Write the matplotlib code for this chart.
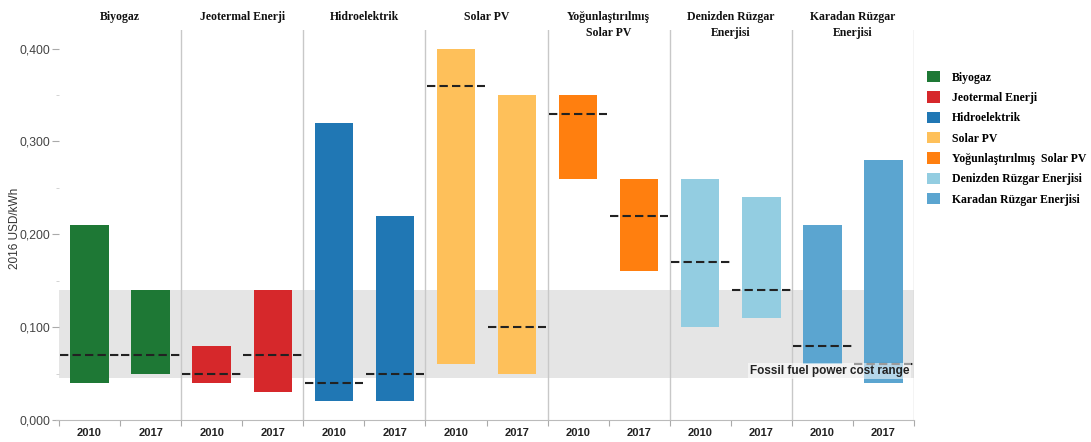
import matplotlib
matplotlib.use("Agg")
import matplotlib.pyplot as plt
import matplotlib.transforms as mtransforms
from matplotlib.patches import Patch
from matplotlib.ticker import FixedLocator

# ---------------- data ----------------
categories = ['Biyogaz', 'Jeotermal Enerji', 'Hidroelektrik', 'Solar PV',
              'Yoğunlaştırılmış\nSolar PV', 'Denizden Rüzgar\nEnerjisi',
              'Karadan Rüzgar\nEnerjisi']
legend_labels = ['Biyogaz', 'Jeotermal Enerji', 'Hidroelektrik', 'Solar PV',
                 'Yoğunlaştırılmış  Solar PV', 'Denizden Rüzgar Enerjisi',
                 'Karadan Rüzgar Enerjisi']
years = ['2010', '2017']
low_2010 = [0.04, 0.04, 0.02, 0.06, 0.26, 0.10, 0.06]
high_2010 = [0.21, 0.08, 0.32, 0.40, 0.35, 0.26, 0.21]
avg_2010 = [0.07, 0.05, 0.04, 0.36, 0.33, 0.17, 0.08]
low_2017 = [0.05, 0.03, 0.02, 0.05, 0.16, 0.11, 0.04]
high_2017 = [0.14, 0.14, 0.22, 0.35, 0.26, 0.24, 0.28]
avg_2017 = [0.07, 0.07, 0.05, 0.10, 0.22, 0.14, 0.06]
fossil_range = [0.045, 0.14]
y_ticks = [0.0, 0.1, 0.2, 0.3, 0.4]
y_ticklabels = ['0,000', '0,100', '0,200', '0,300', '0,400']
y_minor = [0.05, 0.15, 0.25, 0.35]

colors = ['#1e7835', '#d6282b', '#2077b4', '#fec05a', '#ff7f0f', '#93cde1', '#5ba5d0']

# ---------------- figure ----------------
W, H = 1091, 442
fig = plt.figure(figsize=(W / 100, H / 100), dpi=100)
left, right, bottom, top = 59, 914, 420, 30
ax = fig.add_axes([left / W, 1 - bottom / H, (right - left) / W, (bottom - top) / H])

n = len(categories)
ax.set_xlim(0, 2 * n)
ax.set_ylim(0, 0.42)

# fossil band
ax.axhspan(fossil_range[0], fossil_range[1], color='#e5e5e5', zorder=0, lw=0)

bw = 0.63
for i in range(n):
    for j, (lo, hi, av) in enumerate([(low_2010, high_2010, avg_2010),
                                      (low_2017, high_2017, avg_2017)]):
        xc = 2 * i + j + 0.5
        ax.bar(xc, hi[i] - lo[i], bottom=lo[i], width=bw, color=colors[i],
               zorder=2, lw=0)
        ax.plot([2 * i + j + 0.02, 2 * i + j + 0.98], [av[i], av[i]],
                color='#222222', lw=1.5, dashes=(4, 2), zorder=3)

# separators
for k in range(1, n + 1):
    ax.axvline(2 * k, color='#c8c8c8', lw=1.0, zorder=1)

# fossil text
ax.text(2 * n - 0.08, 0.053, 'Fossil fuel power cost range', ha='right', va='center',
        fontsize=8.5, fontweight='bold', family='Liberation Sans', color='#222222',
        zorder=4, bbox=dict(boxstyle='square,pad=0.15', fc='white', ec='none', alpha=0.55))

# axes styling
for s in ['top', 'right', 'left']:
    ax.spines[s].set_visible(False)
ax.spines['bottom'].set_color('#bbbbbb')
ax.spines['bottom'].set_bounds(-0.05, 2 * n)

ax.set_yticks(y_ticks)
ax.set_yticklabels(y_ticklabels, family='Liberation Sans', fontsize=8.7, color='#444444')
ax.yaxis.set_minor_locator(FixedLocator(y_minor))
ax.tick_params(axis='y', which='major', length=5, width=0.8, color='#aaaaaa', pad=1)
ax.tick_params(axis='y', which='minor', length=2, width=0.6, color='#cccccc')

ax.set_xticks([k for k in range(2 * n + 1)])
ax.set_xticklabels([])
ax.xaxis.set_minor_locator(FixedLocator([k + 0.5 for k in range(2 * n)]))
ax.set_xticklabels([years[k % 2] for k in range(2 * n)], minor=True,
                   family='Liberation Sans', fontweight='bold', fontsize=8, color='#222222')
ax.tick_params(axis='x', which='major', length=4, width=0.8, color='#aaaaaa')
ax.tick_params(axis='x', which='minor', length=0, pad=6)

fig.text(15 / W, 1 - 228 / H, '2016 USD/kWh', rotation=90, ha='center', va='center',
         family='Liberation Sans', fontsize=8.5, color='#333333')

# panel titles
trans = mtransforms.blended_transform_factory(ax.transData, fig.transFigure)
for i, c in enumerate(categories):
    ax.text(2 * i + 1, 1 - 11 / H, c, transform=trans, ha='center', va='top',
            family='Liberation Serif', fontweight='bold', fontsize=8.5, color='#111111',
            linespacing=1.45)

# legend
handles = [Patch(facecolor=colors[i], edgecolor='none') for i in range(n)]
fig.legend(handles, legend_labels, loc='upper left',
           bbox_to_anchor=(927 / W, 1 - 71 / H), frameon=False,
           handlelength=1.1, handleheight=1.1, handletextpad=1.0,
           labelspacing=0.65, borderaxespad=0, borderpad=0,
           prop=dict(family='Liberation Serif', weight='bold', size=8.5))

fig.savefig('out.png', dpi=100)
